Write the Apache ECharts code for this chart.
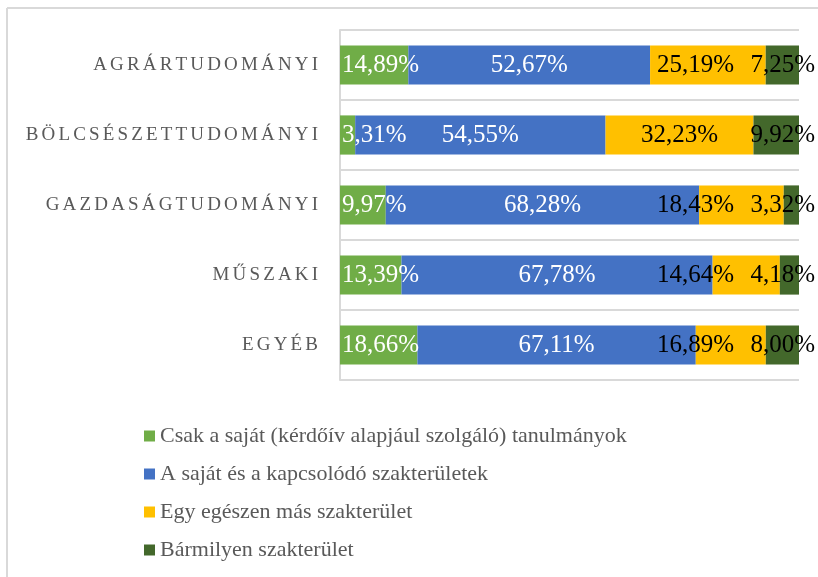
<!DOCTYPE html>
<html>
<head>
<meta charset="utf-8">
<script src="https://cdn.jsdelivr.net/npm/echarts@6/dist/echarts.min.js"></script>
<style>
  html, body { margin: 0; padding: 0; background: #fff; }
  #chart { width: 818px; height: 577px; }
</style>
</head>
<body>
<div id="chart"></div>
<script>
// categories, top to bottom
const categories = ['AGRÁRTUDOMÁNYI', 'BÖLCSÉSZETTUDOMÁNYI', 'GAZDASÁGTUDOMÁNYI', 'MŰSZAKI', 'EGYÉB'];

const seriesNames = [
  'Csak a saját (kérdőív alapjául szolgáló) tanulmányok',
  'A saját és a kapcsolódó szakterületek',
  'Egy egészen más szakterület',
  'Bármilyen szakterület'
];

// percentages as printed on the chart
const csakSajat = [14.89, 3.31, 9.97, 13.39, 18.66];
const sajatKapcs = [52.67, 54.55, 68.28, 67.78, 67.11];
const egeszenMas = [25.19, 32.23, 18.43, 14.64, 16.89];
const barmilyen = [7.25, 9.92, 3.32, 4.18, 8.00];

const rawSeries = [csakSajat, sajatKapcs, egeszenMas, barmilyen];
const colors = ['#70AD47', '#4472C4', '#FFC000', '#43682B'];
const labelColors = ['#ffffff', '#ffffff', '#000000', '#000000'];

const GRID_LEFT = 340;
const GRID_RIGHT = 19;
const W = 818;

// 100% stacked: every row is scaled to its own total
const rowTotals = categories.map((c, i) => rawSeries.reduce((s, arr) => s + arr[i], 0));

function fmt(v) {
  return v.toFixed(2).replace('.', ',') + '%';
}

// place labels roughly like the original (some are pushed aside)
function labelPos(si) {
  return function (p) {
    const plotLeft = GRID_LEFT;
    const plotRight = W - GRID_RIGHT;
    const w = p.labelRect.width;
    const segC = p.rect.x + p.rect.width / 2;
    let x = segC;
    if (si === 0) {
      x = Math.max(segC, plotLeft + 2 + w / 2);
    } else if (si === 2) {
      x = Math.min(segC, plotRight - 50 - 15 - w / 2);
    } else if (si === 3) {
      x = plotRight + 16 - w / 2;
    }
    return {
      x: x,
      y: p.rect.y + p.rect.height / 2,
      align: 'center',
      verticalAlign: 'middle'
    };
  };
}

const chart = echarts.init(document.getElementById('chart'));

chart.setOption({
  animation: false,
  color: colors,
  grid: {
    left: GRID_LEFT,
    right: GRID_RIGHT,
    top: 30,
    bottom: 197,
    containLabel: false
  },
  graphic: [
    { type: 'line', shape: { x1: 7, y1: 8, x2: 818, y2: 8 }, style: { stroke: '#D9D9D9', lineWidth: 2 } },
    { type: 'line', shape: { x1: 7, y1: 8, x2: 7, y2: 577 }, style: { stroke: '#D9D9D9', lineWidth: 2 } }
  ],
  legend: {
    orient: 'vertical',
    left: 139,
    top: 420,
    icon: 'rect',
    itemWidth: 11,
    itemHeight: 11,
    itemGap: 16,
    data: seriesNames,
    textStyle: {
      fontFamily: 'Liberation Serif',
      fontSize: 22,
      lineHeight: 22,
      color: '#595959'
    }
  },
  xAxis: {
    type: 'value',
    min: 0,
    max: 100,
    show: false
  },
  yAxis: {
    type: 'category',
    inverse: true,
    data: categories,
    axisTick: { show: false },
    axisLine: { show: true, lineStyle: { color: '#D9D9D9', width: 2 } },
    splitLine: { show: true, lineStyle: { color: '#D9D9D9', width: 2 } },
    axisLabel: {
      margin: 22,
      fontFamily: 'Liberation Serif',
      fontSize: 19,
      color: '#595959',
      formatter: function (v) {
        return v.split('').join('\u2006');
      }
    }
  },
  series: rawSeries.map(function (arr, si) {
    return {
      name: seriesNames[si],
      type: 'bar',
      stack: 'total',
      barWidth: '56%',
      data: arr.map((v, i) => v / rowTotals[i] * 100),
      itemStyle: { color: colors[si] },
      label: {
        show: true,
        position: 'inside',
        fontFamily: 'Liberation Serif',
        fontSize: 25,
        color: labelColors[si],
        formatter: function (p) {
          return fmt(arr[p.dataIndex]);
        }
      },
      labelLayout: labelPos(si)
    };
  })
});
</script>
</body>
</html>
